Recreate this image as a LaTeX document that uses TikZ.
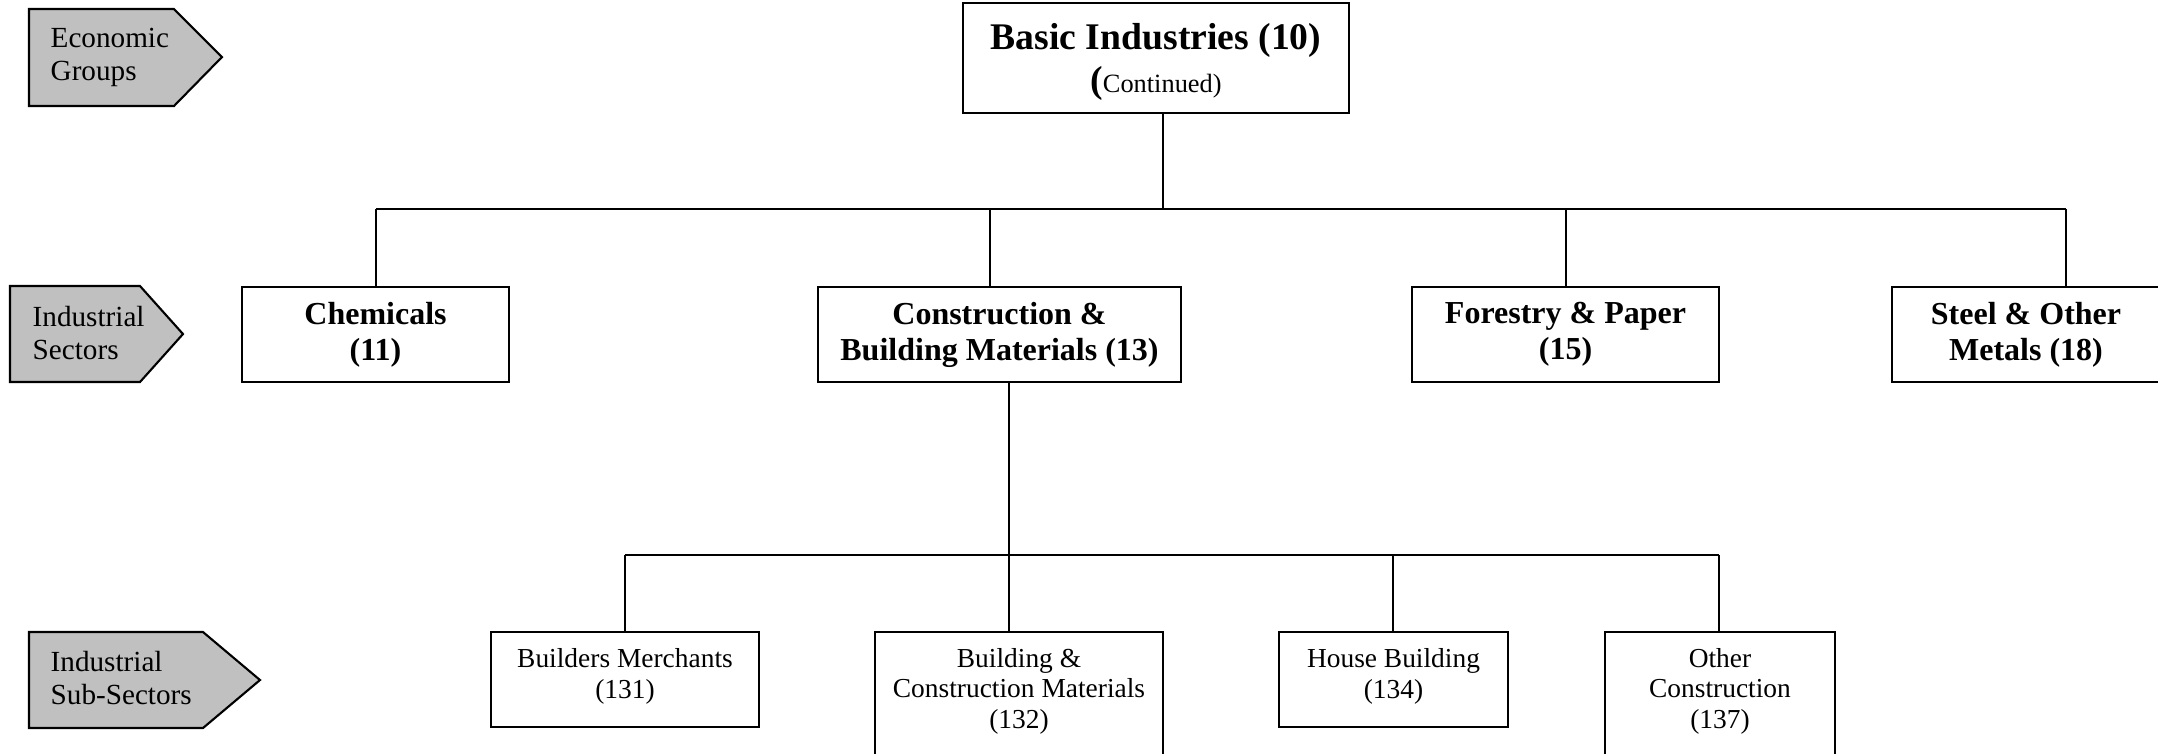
\documentclass[tikz,border=0pt]{standalone}
\usepackage{fontspec}
\setmainfont{Liberation Serif}
\usetikzlibrary{positioning}
\definecolor{tabgray}{HTML}{C0C0C0}
\tikzstyle{frame} = [
        rectangle, draw, line width=0.6pt,
        align=center, inner sep=0pt
    ]
\tikzstyle{sector} = [frame, minimum height=0.95cm,
        font=\fontsize{9.1}{10.2}\selectfont\bfseries]
\tikzstyle{subsector} = [frame, minimum height=0.95cm, text depth=3.5pt,
        font=\fontsize{7.8}{8.7}\selectfont]
\tikzstyle{tab} = [draw, fill=tabgray, line width=0.6pt]
\tikzstyle{tabtext} = [anchor=west, align=left, inner sep=0pt,
        font=\fontsize{8.3}{9.4}\selectfont]
\tikzstyle{line} = [draw, line width=0.6pt]

\begin{document}
\begin{tikzpicture}[x=0.01cm, y=-0.01cm]
    \clip (0,0) rectangle (2158,753);

    % level tabs
    \path [tab] (29,9) -- (174,9) -- (222,57) -- (174,106) -- (29,106) -- cycle;
    \path [tab] (10,286) -- (140,286) -- (183,334) -- (140,382) -- (10,382) -- cycle;
    \path [tab] (29,632) -- (203,632) -- (260,680) -- (203,728) -- (29,728) -- cycle;
    \node [tabtext] (groups) at (50,57) {Economic\\Groups};
    \node [tabtext] (sectors) at (32,333) {Industrial\\Sectors};
    \node [tabtext] (subsectors) at (50,678) {Industrial\\Sub-Sectors};

    % boxes
    \node [frame, minimum width=3.86cm, minimum height=1.10cm, text depth=0pt] (basic) at (1156,58)
        {\fontsize{10.7}{12}\selectfont\bfseries Basic Industries (10)\\[0pt]
         {\fontsize{10.7}{12}\selectfont\bfseries (}{\fontsize{7.5}{9}\selectfont Continued)}};
    \node [sector, minimum width=2.67cm] (chem) at (375.5,334.5) {Chemicals\\(11)};
    \node [sector, minimum width=3.63cm] (cons) at (999.5,334.5) {Construction \&\\Building Materials (13)};
    \node [sector, minimum width=3.07cm] (forest) at (1565.5,334.5) {Forestry \& Paper\\(15)};
    \node [sector, minimum width=2.68cm] (steel) at (2026,334.5) {Steel \& Other\\Metals (18)};

    \node [subsector, minimum width=2.68cm] (merch) at (625,679.5) {Builders Merchants\\(131)};
    \node [subsector, minimum width=2.88cm, minimum height=1.30cm, text depth=5pt] (bcm) at (1019,697) {Building \&\\Construction Materials\\(132)};
    \node [subsector, minimum width=2.29cm] (house) at (1393.5,679.5) {House Building\\(134)};
    \node [subsector, minimum width=2.30cm, minimum height=1.30cm, text depth=5pt] (other) at (1720,697) {Other\\Construction\\(137)};

    % connectors
    \coordinate (d10) at (1163,209);
    \coordinate (d11) at (376,209);
    \coordinate (d13) at (990,209);
    \coordinate (d15) at (1566,209);
    \coordinate (d18) at (2066,209);
    \path [line] (basic.south -| d10) -- (d10);
    \path [line] (d11) -- (d18);
    \path [line] (d11) -- (d11 |- chem.north);
    \path [line] (d13) -- (d13 |- cons.north);
    \path [line] (d15) -- (d15 |- forest.north);
    \path [line] (d18) -- (d18 |- steel.north);

    \coordinate (d131) at (625,555);
    \coordinate (d132) at (1009,555);
    \coordinate (d134) at (1393,555);
    \coordinate (d137) at (1719,555);
    \path [line] (cons.south -| d132) -- (d132);
    \path [line] (d131) -- (d137);
    \path [line] (d131) -- (d131 |- merch.north);
    \path [line] (d132) -- (d132 |- bcm.north);
    \path [line] (d134) -- (d134 |- house.north);
    \path [line] (d137) -- (d137 |- other.north);
\end{tikzpicture}
\end{document}
